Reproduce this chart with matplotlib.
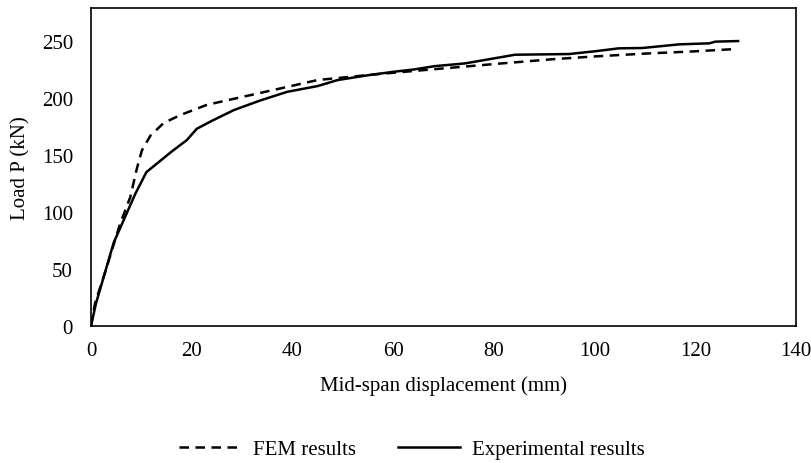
import matplotlib
matplotlib.use("Agg")
import matplotlib.pyplot as plt

# FEM results
fem_x = [0, 0.8, 3, 5.8, 7.8, 9.1, 10.1, 11.8, 14.4, 17.7, 23, 27, 31.7, 39.7, 45, 50, 57, 66.3, 81.6, 91.5, 100, 110, 120, 128]
fem_y = [0, 20, 50, 90, 113, 138, 154, 167, 178, 185, 194, 198, 202.6, 210.5, 215.8, 218, 221, 224.6, 230.4, 234, 236.5, 239, 241, 243]

# Experimental results
exp_x = [0, 1, 4.5, 8.8, 11, 16, 19, 21, 24, 28.4, 33.7, 39, 45, 49, 55, 60, 64, 68.3, 74.3, 84.2, 94.9, 100, 104.8, 109.5, 116.8, 122.8, 124, 128.5]
exp_y = [0, 20, 73, 116, 135, 153, 163, 173, 180, 189.5, 198, 205.5, 210.5, 215.8, 220, 223, 225, 228, 230.4, 238, 238.6, 241, 243.6, 243.9, 247.1, 248, 249.5, 250]

x_ticks = [0, 20, 40, 60, 80, 100, 120, 140]
y_ticks = [0, 50, 100, 150, 200, 250]

plt.rcParams['font.family'] = ['Liberation Serif', 'DejaVu Serif']
fs = 15

fig = plt.figure(figsize=(8.12, 4.64), dpi=100)
ax = fig.add_axes([91/812, 1 - 327/464, (796-91)/812, (327-9)/464])

ax.plot(fem_x, fem_y, color='black', lw=1.8, linestyle=(0, (3.8, 2.6)), label='FEM results')
ax.plot(exp_x, exp_y, color='black', lw=1.8, linestyle='-', label='Experimental results')

ax.set_xlim(0, 140)
ax.set_ylim(0, 279)
ax.set_xticks(x_ticks)
ax.set_yticks(y_ticks)
ax.tick_params(axis='x', length=0, labelsize=fs, pad=11)
ax.tick_params(axis='y', length=0, labelsize=fs, pad=13)
for s in ax.spines.values():
    s.set_linewidth(1.2)
    s.set_color('black')

ax.set_xlabel('Mid-span displacement (mm)', fontsize=fs, labelpad=11)
ax.set_ylabel('Load P (kN)', fontsize=fs, labelpad=8)

fig.legend(loc='center', bbox_to_anchor=(0.507, 1 - 450/464), ncol=2, frameon=False,
           fontsize=fs, handlelength=3.0, columnspacing=2.0, handletextpad=0.55)

fig.savefig('out.png', dpi=100)
